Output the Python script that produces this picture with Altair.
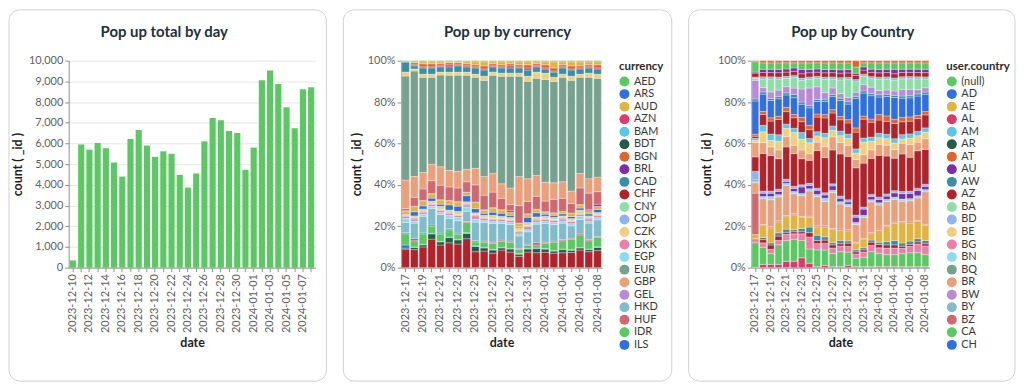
import altair as alt
import pandas as pd

FONT = "Lato"

# ---------------- Panel 1: total by day ----------------
DAY_DATES = [
    "2023-12-10", "2023-12-11", "2023-12-12", "2023-12-13", "2023-12-14",
    "2023-12-15", "2023-12-16", "2023-12-17", "2023-12-18", "2023-12-19",
    "2023-12-20", "2023-12-21", "2023-12-22", "2023-12-23", "2023-12-24",
    "2023-12-25", "2023-12-26", "2023-12-27", "2023-12-28", "2023-12-29",
    "2023-12-30", "2023-12-31", "2024-01-01", "2024-01-02", "2024-01-03",
    "2024-01-04", "2024-01-05", "2024-01-06", "2024-01-07", "2024-01-08",
]
DAY_COUNTS = [350, 5950, 5700, 6020, 5770, 5080, 4400, 6220, 6650, 5900,
              5350, 5620, 5500, 4480, 3870, 4550, 6100, 7230, 7120, 6600,
              6500, 4730, 5800, 9050, 9530, 8870, 7750, 6740, 8620, 8720]
Y_TICKS = [0, 1000, 2000, 3000, 4000, 5000, 6000, 7000, 8000, 9000, 10000]

# ---------------- Panels 2/3: shared dates ----------------
STACK_DATES = [
    "2023-12-17", "2023-12-18", "2023-12-19", "2023-12-20", "2023-12-21",
    "2023-12-22", "2023-12-23", "2023-12-24", "2023-12-25", "2023-12-26",
    "2023-12-27", "2023-12-28", "2023-12-29", "2023-12-30", "2023-12-31",
    "2024-01-01", "2024-01-02", "2024-01-03", "2024-01-04", "2024-01-05",
    "2024-01-06", "2024-01-07", "2024-01-08",
]
PCT_TICKS = [0, 0.2, 0.4, 0.6, 0.8, 1.0]

# currency shares (bottom -> top of each bar)
CHF = [9, 8.7, 10, 13.8, 11, 12, 11.4, 14, 7.7, 8, 7, 8.5, 7.5, 5.5, 7.5, 7.2, 7.4, 7, 7.2, 7.4, 8.5, 7.7, 8.2]
BDT = [0.5, 1, 1, 2.5, 1.5, 2.5, 2, 2.5, 2.5, 1.5, 1.5, 1, 1.5, 1, 1.5, 2, 1.5, 1, 1.5, 1, 1, 1, 1.5]
ARS = [1.5, 0.3, 0.3, 0.3, 0.3, 0.3, 0.3, 0.3, 0.3, 0.3, 0.3, 0.3, 0.3, 0.3, 0.3, 0.3, 0.3, 0.3, 0.3, 0.3, 0.3, 0.3, 0.3]
AED = [5.5, 3, 5, 3.5, 3.5, 3.5, 2.5, 5, 2, 2.5, 3, 3, 3, 2, 1.5, 1.5, 2.5, 4, 4, 5, 6, 4, 4.5]
AZN = [0.5, 1, 0.5, 0.5, 0.5, 0.5, 0.5, 0.5, 0.5, 0.5, 0.5, 0.5, 0.5, 0.5, 0.5, 1, 0.5, 0.5, 0.5, 0.5, 0.5, 0.5, 0.5]
HKD = [5, 7.5, 8, 8, 9, 5, 6, 5, 9, 9, 9, 8, 8, 6, 6, 9, 9, 8, 8, 6, 7, 8, 8]
EGP = [2, 1, 1, 1, 1, 1.5, 1.5, 2, 1.5, 1, 1, 1, 1, 1, 1, 1, 1, 1, 1, 1, 1.5, 1, 1]
DKK = [1, 1, 1, 1, 1, 1, 1, 1, 1.5, 1, 1, 1, 1, 1, 1.5, 1, 1, 1, 1, 1, 1, 1, 1]
COP = [0.5, 0.5, 0.5, 0.5, 0.5, 0.5, 0.5, 0.5, 0.5, 0.5, 0.5, 0.5, 0.5, 0.5, 0.5, 0.5, 0.5, 0.5, 0.5, 0.5, 0.5, 0.5, 0.5]
CZK = [0.5, 1, 1, 1, 1.5, 1, 1.5, 1, 1, 1, 1.5, 1, 1, 1.5, 1.5, 1, 1, 1, 1, 1, 1.5, 1, 1]
ILS = [0.5, 2, 1.5, 1.5, 1, 2.5, 2.5, 3, 2, 1, 1.5, 1.5, 1, 0.5, 2.5, 2, 1, 1, 1, 1, 1, 1, 1.5]
AUD = [1, 2.5, 2.5, 2, 2, 2, 2, 1.5, 3, 1.5, 2, 1.5, 1.5, 1.5, 1.5, 1.5, 1, 1, 1, 1.5, 1.5, 1.5, 1.5]
BRL = [0.2, 0.2, 0.2, 0.2, 0.2, 0.2, 0.2, 0.2, 0.2, 0.2, 0.2, 0.2, 0.7, 0.2, 0.2, 0.2, 0.2, 0.2, 0.2, 0.2, 0.2, 0.5, 1]
HUF = [1, 4.3, 5.5, 6.2, 7, 6.5, 6.6, 5, 8.3, 7, 7.5, 5.5, 3, 8.5, 6, 6.3, 5.1, 6.5, 6.3, 4.6, 8, 8, 6]
GBP = [14, 10, 8, 8, 9, 8, 8, 6, 8, 9, 9, 7, 8, 14, 11, 10, 9, 8, 8, 6, 7, 7, 7]
EUR = [50.5, 51, 46, 42, 44.5, 46, 46.5, 45.5, 44, 46.5, 47.5, 52, 54, 48.5, 47, 47, 49.5, 49, 50.5, 53.5, 46.5, 49, 47.5]
PHP = [2, 1, 1.5, 1.5, 1.5, 1.5, 1.5, 1.5, 1.5, 2, 1.5, 1.5, 1.5, 1.5, 2.5, 3, 3, 2, 1.5, 2, 1.5, 2, 2]
CAD = [5, 1.5, 3, 3, 2.5, 2.5, 3, 2.5, 3, 3, 2.5, 2.5, 2.5, 2.5, 3, 2.5, 2, 2.5, 3, 3, 2.5, 2.5, 2.5]
JOD = [0, 0.5, 0.5, 0.5, 0.5, 1, 0.5, 0.5, 0.5, 0.5, 0.5, 0.5, 1, 0.5, 1, 0.5, 0.5, 0.5, 0.5, 0.5, 0.5, 0.5, 0.5]
BGN = [0, 1, 1.5, 1.5, 1, 1, 1, 1, 1, 1.5, 1, 1, 1, 1, 1.5, 1, 1.5, 1.5, 1, 1.5, 1, 1, 1.5]
INR = [0, 0.5, 1, 1, 1, 0.5, 0.5, 1, 1.5, 2, 1, 1.5, 1, 1.5, 1.5, 1, 1.5, 3, 1.5, 2, 2, 1.5, 1.5]
IDR = [0.5, 0.5, 0.5, 0.5, 0.5, 0.5, 0.5, 0.5, 0.5, 0.5, 0.5, 0.5, 0.5, 0.5, 0.5, 0.5, 0.5, 0.5, 0.5, 0.5, 0.5, 0.5, 0.5]

CURRENCY_STACK = [
    ("CHF", CHF), ("BDT", BDT), ("ARS", ARS), ("AED", AED), ("AZN", AZN),
    ("HKD", HKD), ("EGP", EGP), ("DKK", DKK), ("COP", COP), ("CZK", CZK),
    ("ILS", ILS), ("AUD", AUD), ("BRL", BRL), ("HUF", HUF), ("GBP", GBP),
    ("EUR", EUR), ("PHP", PHP), ("CAD", CAD), ("JOD", JOD), ("BGN", BGN),
    ("INR", INR), ("IDR", IDR),
]
CURRENCY_LEGEND = ["AED", "ARS", "AUD", "AZN", "BAM", "BDT", "BGN", "BRL",
                   "CAD", "CHF", "CNY", "COP", "CZK", "DKK", "EGP", "EUR",
                   "GBP", "GEL", "HKD", "HUF", "IDR", "ILS"]
CURRENCY_EXTRA = [("INR", 2), ("JOD", 3), ("PHP", 12)]

# country shares (bottom -> top of each bar)
C_AL = [0, 1.5, 1.5, 1.5, 3, 3, 4.5, 2, 0.5, 1, 0.5, 0.5, 1, 0.5, 0.5, 0.5, 0.5, 0.5, 0.5, 0.5, 0.5, 0.5, 0.5]
C_NULL = [12, 8, 5, 9, 10, 10.5, 8, 6.5, 8, 7, 6, 6.5, 6, 4, 4.5, 7, 6, 5.5, 5.5, 6, 6.5, 6.5, 5.5]
C_BG = [1, 2, 2, 2, 3, 2.5, 3, 5.5, 3, 3, 2.5, 2.5, 2.5, 2, 2.5, 3, 2.5, 3, 3, 2.5, 3, 4, 4]
C_DZ = [0.5, 1.5, 2, 2, 1, 1, 1, 2, 1.5, 1.5, 1.5, 1, 1.5, 1, 1, 1.5, 1.5, 1.5, 1.5, 1, 1, 1, 1]
C_AW = [0.5, 1, 1, 1.5, 1.5, 1, 1.5, 2.5, 2.5, 1.5, 1, 1.5, 1, 1, 1, 1, 1, 1.5, 2, 1.5, 1.5, 1.5, 1.5]
C_AE = [2, 5.5, 7, 5, 6, 7, 5, 4.5, 4, 4.5, 6, 4.5, 4.5, 3, 4, 3, 5.5, 7, 8, 9.5, 8.5, 8, 7]
C_BZ = [20, 0.5, 0.5, 0.5, 0.5, 0.5, 0.5, 0.5, 0.5, 0.5, 0.5, 0.5, 0.5, 0.5, 0.5, 0.5, 0.5, 0.5, 0.5, 0.5, 0.5, 0.5, 0.5]
C_BR = [5, 12, 12.5, 11, 14.5, 9.5, 9.5, 11.5, 14, 11, 16.5, 11, 10.5, 8.5, 10, 14.5, 11, 11, 10.5, 9.5, 10, 10.5, 15]
C_BN = [1, 1, 1.5, 1, 1, 1, 1, 1, 1, 1.5, 1, 1, 1, 1, 1, 1, 1, 1, 1, 1, 1, 1, 1]
C_AU = [0.5, 1.5, 1.5, 1.5, 1, 1.5, 3, 1.5, 2, 1.5, 2, 1.5, 1, 2.5, 3, 1.5, 1.5, 1.5, 2, 2.5, 2.5, 2.5, 1.5]
C_BD = [4, 1, 1, 1, 1, 1, 1, 1, 1, 1, 1, 1, 1, 1, 1, 1, 1, 1, 1, 1, 1, 1, 1]
C_AZ = [7, 17.5, 16.5, 14, 15.5, 15.5, 12, 10.5, 18, 16, 15.5, 18.5, 19.5, 22.5, 21, 17, 19, 17.5, 15, 17.5, 16, 17.5, 16]
C_GE = [7, 5, 4, 4, 5, 4, 4, 3, 4, 5, 6, 5, 5, 4, 4, 4, 5, 5, 4, 5, 6, 4, 5]
C_BE = [1, 5, 3, 4, 4, 6, 5, 5, 3, 4, 3, 3, 3, 3, 6, 4, 3, 3, 3, 2, 3, 3, 3]
C_AM = [1, 3, 3, 3, 2, 2, 3, 2, 2, 2, 2, 2, 2, 2, 2, 2, 2, 2, 2, 2, 2, 2, 2]
C_LU = [1, 5, 6, 7, 6, 5, 5, 4, 7, 7, 6, 5, 5, 8, 9, 7, 6, 6, 7, 6, 6, 6, 6]
C_AT = [1, 1.5, 1.5, 1.5, 2, 1.5, 2, 2, 1.5, 1.5, 1.5, 1.5, 1.5, 2, 1.5, 1.5, 2.5, 2.5, 2, 2, 2, 1.5, 1.5]
C_AD = [16, 8, 8, 8, 6, 8, 6, 8, 6, 6, 6, 7, 7, 14, 11, 11, 8, 9, 10, 9, 9, 9, 8]
C_DK = [1, 1, 1, 1, 1, 1.5, 1, 1, 1, 1, 1, 1, 1, 1, 1, 1, 1, 1, 1, 1, 1, 1, 1]
C_BW = [9, 2, 3, 3, 3, 3, 6, 8, 6, 3, 3, 2, 2, 2, 3, 3, 2, 2, 2, 3, 3, 2, 2]
C_BA = [1, 4, 6, 5, 4, 5, 4, 4, 4, 6, 4, 6, 8, 5, 4, 4, 5, 5, 5, 5, 5, 5, 4]
C_BY = [0.5, 1, 1, 1, 1, 1, 1, 1, 1, 1, 1, 1, 1, 1, 1, 1, 1, 1, 1, 1, 1, 1, 1]
C_MY = [2, 2, 2, 2, 2, 2, 2, 2, 2, 2, 2, 2, 2, 2, 2, 2, 2, 2, 2, 2, 2, 2, 2]
C_KZ = [0.5, 1.5, 1.5, 1.5, 1.5, 1.5, 2, 1.5, 1.5, 1.5, 1.5, 1.5, 1.5, 1, 1.5, 1.5, 1.5, 1.5, 2, 1.5, 1.5, 1.5, 1.5]
C_CA = [5, 3, 3, 3, 3, 2.5, 3, 3, 3, 3, 3, 3, 3, 3, 2, 3, 3, 3, 3, 3, 3, 3, 3]
C_KR = [0.5, 1, 1, 1, 1, 1, 1, 1, 1, 1, 1, 1, 1, 3, 1, 1, 1, 1, 1, 1, 1, 1, 1]

COUNTRY_STACK = [
    ("AL", C_AL), ("(null)", C_NULL), ("BG", C_BG), ("DZ", C_DZ), ("AW", C_AW),
    ("AE", C_AE), ("BZ", C_BZ), ("BR", C_BR), ("BN", C_BN), ("AU", C_AU),
    ("BD", C_BD), ("AZ", C_AZ), ("GE", C_GE), ("BE", C_BE), ("AM", C_AM),
    ("LU", C_LU), ("AT", C_AT), ("AD", C_AD), ("DK", C_DK), ("BW", C_BW),
    ("BA", C_BA), ("BY", C_BY), ("MY", C_MY), ("KZ", C_KZ), ("CA", C_CA),
    ("KR", C_KR),
]
COUNTRY_LEGEND = ["(null)", "AD", "AE", "AL", "AM", "AR", "AT", "AU", "AW",
                  "AZ", "BA", "BD", "BE", "BG", "BN", "BQ", "BR", "BW", "BY",
                  "BZ", "CA", "CH"]
COUNTRY_EXTRA = [("DZ", 9), ("GE", 16), ("LU", 9), ("DK", 8), ("MY", 9),
                 ("KZ", 7), ("KR", 6)]

PALETTE = ["#5cc864", "#2f6fe0", "#e3b33f", "#dd3a6b", "#5cc6ea",
           "#245c45", "#e0642e", "#7a2fa8", "#3a8ea8", "#b1232a",
           "#8edea8", "#90b4ee", "#f0d07e", "#ea80a8", "#8adcf0",
           "#78a290", "#eba07c", "#b88bd8", "#80bccc", "#d0686f"]

TITLES = ["Pop up total by day", "Pop up by currency", "Pop up by Country"]

TEXT_DARK = "#21313c"
PLOT_H = 208
CARD_TOP, CARD_BOTTOM = -51, 322


def stack_frame(stack, key):
    rows = []
    for rank, (name, vals) in enumerate(stack):
        for d, v in zip(STACK_DATES, vals):
            rows.append({"date": d, key: name, "count": v, "rank": rank})
    return pd.DataFrame(rows)


def color_scale(legend, extra):
    domain = list(legend) + [n for n, _ in extra]
    rng = [PALETTE[i % len(PALETTE)] for i in range(len(legend))] + [PALETTE[i] for _, i in extra]
    return alt.Scale(domain=domain, range=rng)


def card(x1, x2, title_x, title):
    base = alt.Chart(alt.Data(values=[{"k": 1}]))
    rect = base.mark_rect(fill="white", fillOpacity=0, stroke="#d0d0d0",
                          strokeWidth=1, cornerRadius=11).encode(
        x=alt.value(x1), x2=alt.value(x2),
        y=alt.value(CARD_TOP), y2=alt.value(CARD_BOTTOM))
    text = base.mark_text(font=FONT, fontSize=15, fontWeight="bold",
                          color=TEXT_DARK, align="center",
                          baseline="middle").encode(
        x=alt.value(title_x), y=alt.value(-29), text=alt.value(title))
    return rect, text


x_axis = alt.Axis(labelAngle=270, labelOverlap="parity", grid=False,
                  title="date")

# panel 1
day_df = pd.DataFrame({"date": DAY_DATES, "count": DAY_COUNTS})
bars1 = alt.Chart(day_df).mark_bar(color=PALETTE[0]).encode(
    x=alt.X("date:N", axis=x_axis,
            scale=alt.Scale(paddingInner=0.25, paddingOuter=0.15)),
    y=alt.Y("count:Q", title="count ( _id )",
            scale=alt.Scale(domain=[0, 10000], nice=False),
            axis=alt.Axis(values=Y_TICKS, format=",.0f")),
)
r1, t1 = card(-60, 259, 96, TITLES[0])
p1 = alt.layer(r1, t1, bars1).properties(width=248, height=PLOT_H)

# panel 2
cur_df = stack_frame(CURRENCY_STACK, "currency")
bars2 = alt.Chart(cur_df).mark_bar(stroke="white", strokeWidth=0.3).encode(
    x=alt.X("date:N", axis=x_axis,
            scale=alt.Scale(paddingInner=0.12, paddingOuter=0.08)),
    y=alt.Y("count:Q", stack="normalize", title="count ( _id )",
            axis=alt.Axis(values=PCT_TICKS, format=".0%")),
    color=alt.Color("currency:N", scale=color_scale(CURRENCY_LEGEND, CURRENCY_EXTRA),
                    legend=alt.Legend(title="currency", values=CURRENCY_LEGEND)),
    order=alt.Order("rank:Q", sort="ascending"),
)
r2, t2 = card(-58, 272, 107, TITLES[1])
p2 = alt.layer(r2, t2, bars2).properties(width=202, height=PLOT_H)

# panel 3
cty_df = stack_frame(COUNTRY_STACK, "user.country")
bars3 = alt.Chart(cty_df).mark_bar(stroke="white", strokeWidth=0.3).encode(
    x=alt.X("date:N", axis=x_axis,
            scale=alt.Scale(paddingInner=0.12, paddingOuter=0.08)),
    y=alt.Y("count:Q", stack="normalize", title="count ( _id )",
            axis=alt.Axis(values=PCT_TICKS, format=".0%")),
    color=alt.Color("user\\.country:N", scale=color_scale(COUNTRY_LEGEND, COUNTRY_EXTRA),
                    legend=alt.Legend(title="user.country", values=COUNTRY_LEGEND)),
    order=alt.Order("rank:Q", sort="ascending"),
)
r3, t3 = card(-63, 265, 102, TITLES[2])
p3 = alt.layer(r3, t3, bars3).properties(width=179, height=PLOT_H)

chart = alt.hconcat(p1, p2, p3, spacing=15).resolve_scale(
    color="independent", x="independent", y="independent"
).properties(
    padding=0, background="white"
).configure_view(
    strokeWidth=0
).configure_axis(
    labelFont=FONT, titleFont=FONT, labelFontSize=11, titleFontSize=12.5,
    labelColor="#5f5f5f", titleColor="#1e1e1e", titleFontWeight="bold",
    domainColor="#8f8f8f", tickColor="#8f8f8f", gridColor="#e6e6e6",
    tickSize=4, labelPadding=2,
).configure_legend(
    titleFont=FONT, labelFont=FONT, titleFontSize=11.5, labelFontSize=11,
    titleColor="#2b2b2b", labelColor="#3a3a3a", symbolType="circle",
    symbolSize=100, symbolStrokeWidth=0, rowPadding=0.6, offset=17,
    titlePadding=4, padding=0,
)

chart.save("out.html", embed_options={"renderer": "svg", "actions": False})
